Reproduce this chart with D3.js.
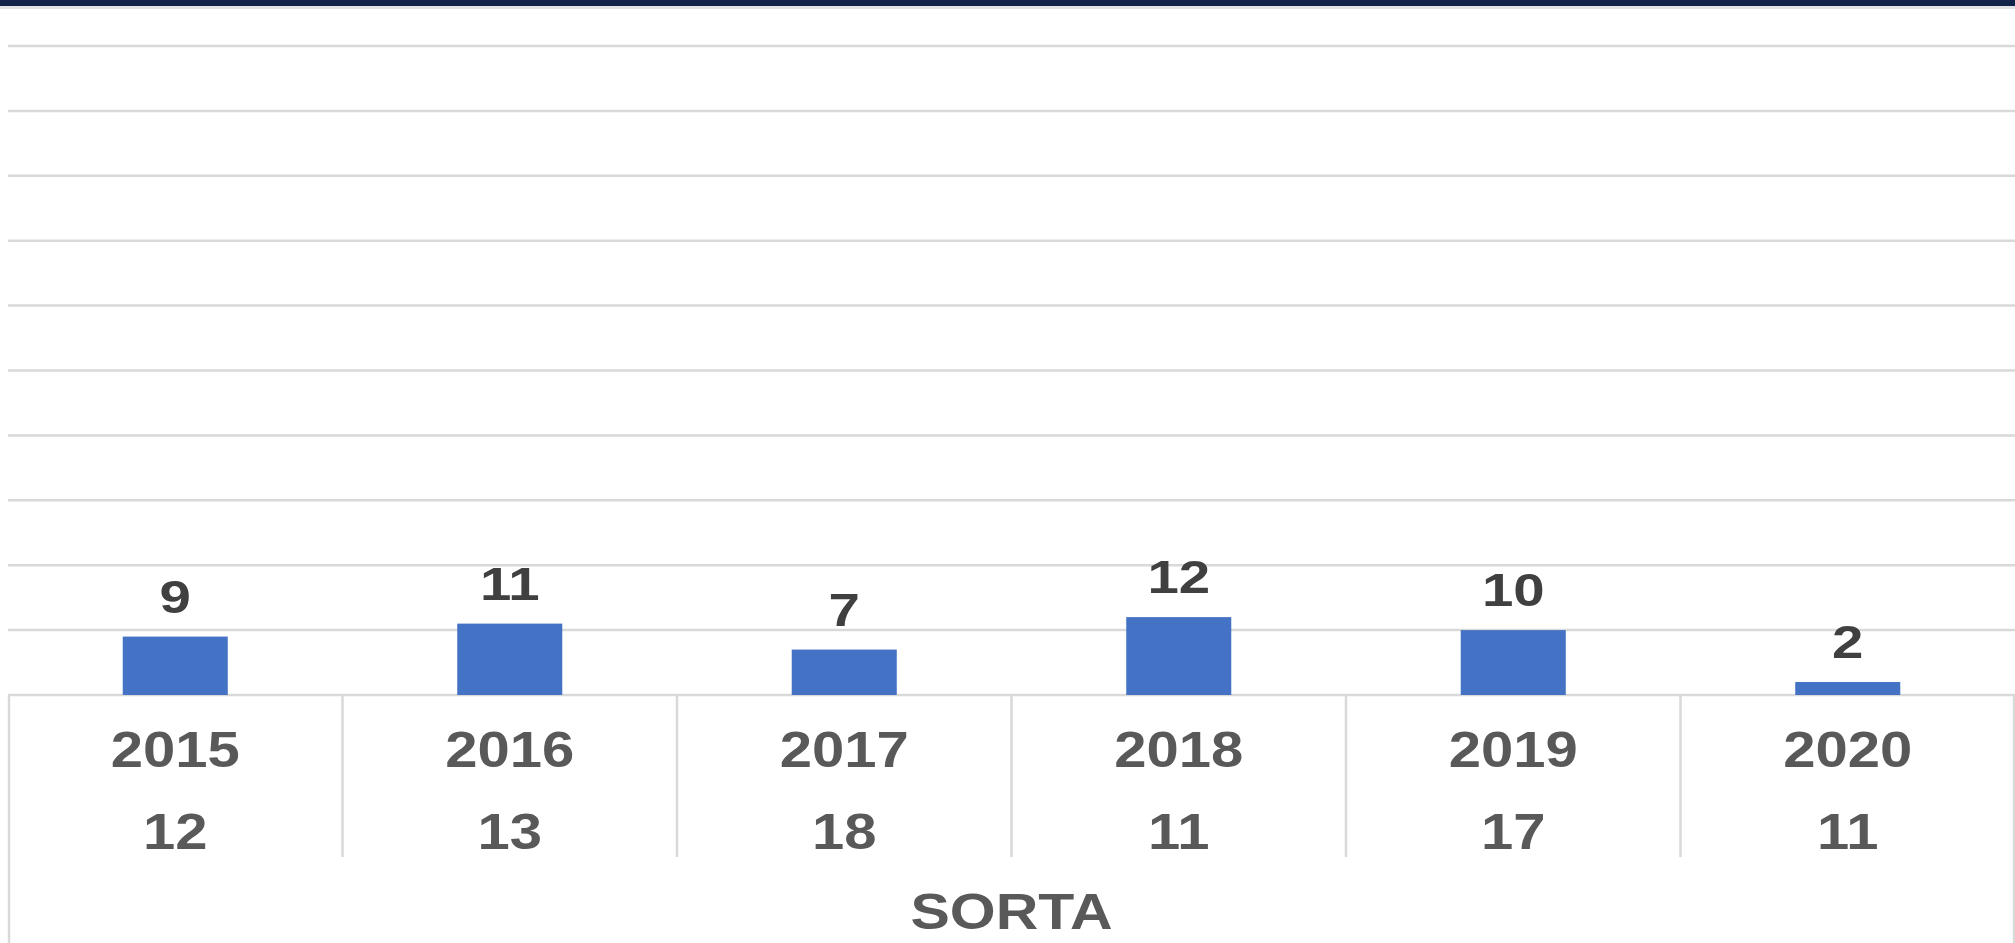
<!DOCTYPE html>
<html>
<head>
<meta charset="utf-8">
<script src="https://cdn.jsdelivr.net/npm/d3@7"></script>
<style>
  html, body { margin: 0; padding: 0; background: #ffffff; }
  svg { display: block; }
  text { font-family: "Liberation Sans", Arial, sans-serif; font-weight: bold; }
</style>
</head>
<body>
<svg id="chart" width="2015" height="943"></svg>
<script>
// ---- data ----
const years = ["2015", "2016", "2017", "2018", "2019", "2020"];
const values = [9, 11, 7, 12, 10, 2];
const rowTwo = [12, 13, 18, 11, 17, 11];
const axisTitle = "SORTA";
const yTicks = [0, 10, 20, 30, 40, 50, 60, 70, 80, 90, 100];

// ---- layout ----
const W = 2015, H = 943;
const plotLeft = 8, plotRight = 2015;
const plotBase = 695, plotTop = 46;
const gridColor = "#d9d9d9";

const svg = d3.select("#chart");

// top banner
svg.append("rect").attr("x", 0).attr("y", 0).attr("width", W).attr("height", 6).attr("fill", "#13244a");
svg.append("rect").attr("x", 0).attr("y", 6).attr("width", W).attr("height", 3).attr("fill", "#e4e4e8");

const x = d3.scaleBand().domain(years).range([plotLeft, plotRight]).paddingInner(0.686).paddingOuter(0.343);
const xCell = d3.scaleBand().domain(years).range([plotLeft, plotRight]).padding(0);
const y = d3.scaleLinear().domain([0, 100]).range([plotBase, plotTop]);

// gridlines
svg.append("g").selectAll("line").data(yTicks).join("line")
  .attr("x1", plotLeft).attr("x2", plotRight)
  .attr("y1", d => y(d)).attr("y2", d => y(d))
  .attr("stroke", gridColor).attr("stroke-width", 2.5);

// table lines
const tableBottom = 857;
svg.append("g").selectAll("line").data(years.slice(1)).join("line")
  .attr("x1", d => xCell(d)).attr("x2", d => xCell(d))
  .attr("y1", plotBase).attr("y2", tableBottom)
  .attr("stroke", gridColor).attr("stroke-width", 2.5);
svg.append("line").attr("x1", plotLeft + 1).attr("x2", plotLeft + 1).attr("y1", plotBase).attr("y2", H)
  .attr("stroke", gridColor).attr("stroke-width", 2.5);
svg.append("line").attr("x1", plotRight - 1).attr("x2", plotRight - 1).attr("y1", plotBase).attr("y2", H)
  .attr("stroke", gridColor).attr("stroke-width", 2.5);

// bars
svg.append("g").selectAll("rect").data(years).join("rect")
  .attr("x", d => x(d)).attr("width", x.bandwidth())
  .attr("y", (d, i) => y(values[i])).attr("height", (d, i) => plotBase - y(values[i]))
  .attr("fill", "#4472c4");

// data labels
svg.append("g").selectAll("text").data(years).join("text")
  .attr("transform", (d, i) => `translate(${x(d) + x.bandwidth() / 2},${y(values[i]) - 24}) scale(1.2,1)`)
  .attr("text-anchor", "middle")
  .attr("font-size", 47)
  .attr("fill", "#404040")
  .text((d, i) => values[i]);

// category labels (year row)
svg.append("g").selectAll("text").data(years).join("text")
  .attr("transform", d => `translate(${xCell(d) + xCell.bandwidth() / 2},767) scale(1.16,1)`)
  .attr("text-anchor", "middle")
  .attr("font-size", 50)
  .attr("fill", "#595959")
  .text(d => d);

// second row
svg.append("g").selectAll("text").data(years).join("text")
  .attr("transform", (d, i) => `translate(${xCell(d) + xCell.bandwidth() / 2},849) scale(1.16,1)`)
  .attr("text-anchor", "middle")
  .attr("font-size", 50)
  .attr("fill", "#595959")
  .text((d, i) => rowTwo[i]);

// axis title
svg.append("text")
  .attr("transform", `translate(${(plotLeft + plotRight) / 2},929) scale(1.18,1)`)
  .attr("text-anchor", "middle")
  .attr("font-size", 50)
  .attr("fill", "#595959")
  .text(axisTitle);
</script>
</body>
</html>
